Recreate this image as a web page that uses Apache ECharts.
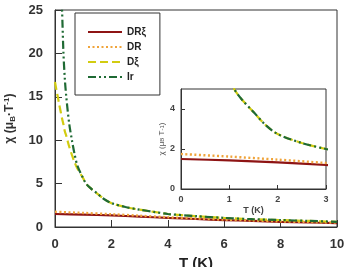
<!DOCTYPE html>
<html>
<head>
<meta charset="utf-8">
<script src="https://cdn.jsdelivr.net/npm/echarts@6/dist/echarts.min.js"></script>
<style>
  html, body { margin: 0; padding: 0; background: #fff; }
  #main { width: 344px; height: 267px; }
</style>
</head>
<body>
<div id="main"></div>
<script type="text/javascript">
// temperature points (K)
var temps = [0, 0.05, 0.1, 0.15, 0.2, 0.25, 0.3, 0.35, 0.4, 0.5, 0.6, 0.7, 0.8, 1.0, 1.1, 1.25, 1.5, 1.75, 2, 2.5, 3, 3.5, 4, 5, 6, 7, 8, 9, 10];
// chi values
var chiIr = [60, 60, 45, 35, 29, 25, 20, 17, 15, 12, 10, 8.3, 7, 5.6, 5.0, 4.5, 3.85, 3.2, 2.75, 2.3, 2.0, 1.75, 1.5, 1.25, 1.05, 0.9, 0.8, 0.7, 0.6];
var chiDxi = [16.7, 15.8, 15, 14.1, 13.3, 12.5, 11.8, 11.0, 10.5, 9.3, 8.3, 7.4, 6.7, 5.6, 5.0, 4.5, 3.85, 3.2, 2.75, 2.3, 2.0, 1.75, 1.5, 1.25, 1.05, 0.9, 0.8, 0.7, 0.6];
var tempsFlat = [0, 1, 2, 3, 4, 5, 6, 7, 8, 9, 10];
var chiDRxi = [1.5, 1.43, 1.33, 1.2, 1.05, 0.92, 0.8, 0.7, 0.6, 0.52, 0.45];
var chiDR = [1.75, 1.62, 1.47, 1.3, 1.12, 0.98, 0.85, 0.75, 0.65, 0.57, 0.5];
var names = ['DRξ', 'DR', 'Dξ', 'Ir'];
var insetTicks = [0, 2, 4];

function pairs(xs, ys) {
    var out = [];
    for (var i = 0; i < xs.length; i++) out.push([xs[i], ys[i]]);
    return out;
}

var styles = [
    { color: '#8e1414', width: 2.2, type: 'solid' },
    { color: '#f0a43a', width: 2.4, type: [2, 2.5] },
    { color: '#d2cc10', width: 2.2, type: [8, 4] },
    { color: '#1f6a34', width: 2.2, type: [8, 3, 2, 3, 2, 3] }
];
var dataSets = [pairs(tempsFlat, chiDRxi), pairs(tempsFlat, chiDR), pairs(temps, chiDxi), pairs(temps, chiIr)];

var series = [];
for (var g = 0; g < 2; g++) {
    for (var i = 0; i < 4; i++) {
        series.push({
            name: names[i],
            type: 'line',
            xAxisIndex: g,
            yAxisIndex: g,
            data: dataSets[i],
            showSymbol: false,
            symbol: 'none',
            smooth: 0.3,
            clip: true,
            lineStyle: { color: styles[i].color, width: styles[i].width, type: styles[i].type },
            itemStyle: { color: styles[i].color }
        });
    }
}

var axisCol = '#333';
var myChart = echarts.init(document.getElementById('main'));
var option = {
    animation: false,
    backgroundColor: '#fff',
    textStyle: { fontFamily: 'Liberation Sans, Arial, sans-serif' },
    legend: {
        data: names,
        orient: 'vertical',
        left: 75,
        top: 13,
        padding: [14, 14, 13, 12],
        itemGap: 5,
        itemWidth: 34,
        itemHeight: 10,
        itemStyle: { opacity: 0 },
        borderColor: '#333',
        borderWidth: 1,
        textStyle: { fontSize: 10, fontWeight: 'bold', color: '#222' }
    },
    grid: [
        { left: 55, top: 10, width: 282, height: 217, show: true, borderColor: axisCol, borderWidth: 1, outerBoundsMode: 'none' },
        { left: 181, top: 89, width: 145, height: 100, show: true, borderColor: axisCol, borderWidth: 1, outerBoundsMode: 'none' }
    ],
    xAxis: [{
        gridIndex: 0, type: 'value', min: 0, max: 10, interval: 2,
        name: 'T (K)', nameLocation: 'middle', nameGap: 26,
        nameTextStyle: { fontSize: 15, fontWeight: 'bold', color: '#222' },
        axisLine: { lineStyle: { color: axisCol } },
        axisTick: { inside: true, length: 7, lineStyle: { color: axisCol } },
        axisLabel: { fontSize: 13, fontWeight: 'bold', color: '#333', margin: 11 },
        splitLine: { show: false }
    }, {
        gridIndex: 1, type: 'value', min: 0, max: 3, interval: 1,
        name: 'T (K)', nameLocation: 'middle', nameGap: 17,
        nameTextStyle: { fontSize: 9, fontWeight: 'bold', color: '#444' },
        axisLine: { lineStyle: { color: axisCol } },
        axisTick: { inside: true, length: 4, lineStyle: { color: axisCol } },
        axisLabel: { fontSize: 9, fontWeight: 'bold', color: '#444', margin: 6 },
        splitLine: { show: false }
    }],
    yAxis: [{
        gridIndex: 0, type: 'value', min: 0, max: 25, interval: 5,
        name: '{a|χ (μ}{s|B}{a|·T}{p|-1}{a|)}', nameLocation: 'middle', nameGap: 38,
        nameTextStyle: {
            rich: {
                a: { fontSize: 12, fontWeight: 'bold', color: '#333' },
                s: { fontSize: 8, fontWeight: 'bold', color: '#333', verticalAlign: 'bottom', padding: [4, 0, 0, 0] },
                p: { fontSize: 8, fontWeight: 'bold', color: '#333', verticalAlign: 'top', padding: [0, 0, 6, 0] }
            }
        },
        axisLine: { show: true, lineStyle: { color: axisCol } },
        axisTick: { show: true, inside: true, length: 7, lineStyle: { color: axisCol } },
        axisLabel: { fontSize: 13, fontWeight: 'bold', color: '#333', margin: 12 },
        splitLine: { show: false }
    }, {
        gridIndex: 1, type: 'value', min: 0, max: 5,
        name: '{a|χ (μ}{s|B}{a| T}{p|-1}{a|)}', nameLocation: 'middle', nameGap: 15,
        nameTextStyle: {
            rich: {
                a: { fontSize: 8, color: '#555' },
                s: { fontSize: 6, color: '#555' },
                p: { fontSize: 6, color: '#555' }
            }
        },
        axisLine: { show: true, lineStyle: { color: axisCol } },
        axisTick: { show: true, inside: true, length: 4, customValues: insetTicks, lineStyle: { color: axisCol } },
        axisLabel: { fontSize: 9, fontWeight: 'bold', color: '#444', margin: 6, customValues: insetTicks },
        splitLine: { show: false }
    }],
    series: series
};
myChart.setOption(option);
</script>
</body>
</html>
